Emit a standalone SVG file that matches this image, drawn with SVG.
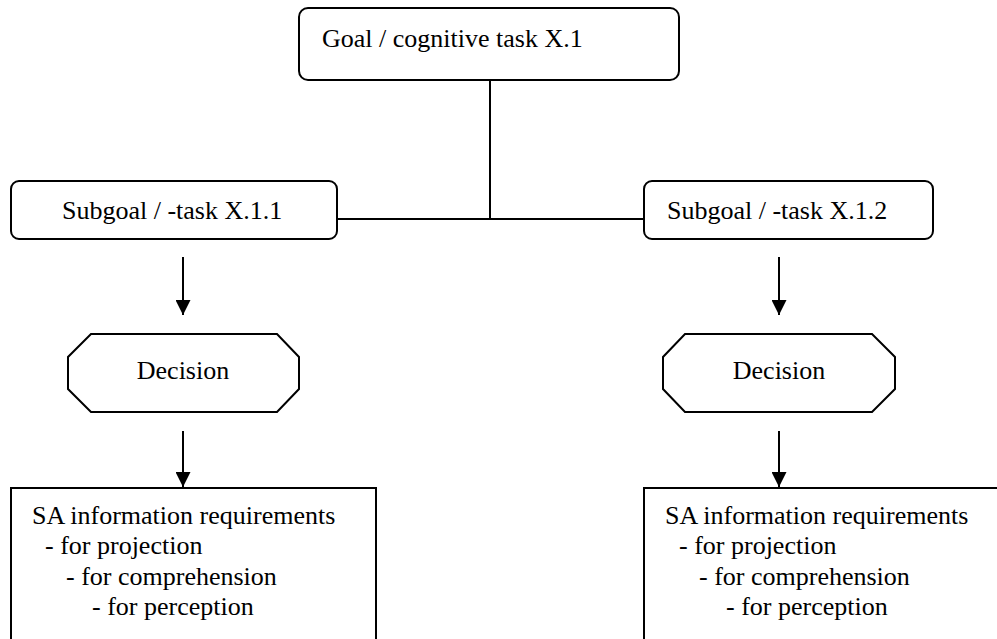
<svg xmlns="http://www.w3.org/2000/svg" width="997" height="639" viewBox="0 0 997 639">
<style>
  .box { fill: #fff; stroke: #000; stroke-width: 2; }
  .t { font-family: 'Liberation Serif', 'DejaVu Serif', serif; font-size: 26px; fill: #000; }
  .c { text-anchor: middle; }
  .ln { stroke: #000; stroke-width: 2; fill: none; }
</style>
<defs>
  <marker id="ah" markerWidth="16" markerHeight="15" refX="16" refY="8" orient="auto" markerUnits="userSpaceOnUse" viewBox="0 0 16 16">
    <path d="M0,0 L16,8 L0,16 Z" fill="#000"/>
  </marker>
</defs>
<rect width="997" height="639" fill="#fff"/>
<g id="connectors">
  <line class="ln" x1="490" y1="80" x2="490" y2="219"/>
  <line class="ln" x1="337" y1="219" x2="644" y2="219"/>
  <line class="ln" x1="183" y1="257" x2="183" y2="315" marker-end="url(#ah)"/>
  <line class="ln" x1="779" y1="257" x2="779" y2="315" marker-end="url(#ah)"/>
  <line class="ln" x1="183" y1="431" x2="183" y2="487" marker-end="url(#ah)"/>
  <line class="ln" x1="779" y1="431" x2="779" y2="487" marker-end="url(#ah)"/>
</g>
<g id="goal">
  <rect class="box" x="299" y="8" width="380" height="72" rx="9"/>
  <text class="t" font-family="Liberation Serif" x="322" y="47">Goal / cognitive task X.1</text>
</g>
<g id="subgoal1">
  <rect class="box" x="11" y="181" width="326" height="58" rx="8"/>
  <text class="t" x="62" y="219">Subgoal / -task X.1.1</text>
</g>
<g id="subgoal2">
  <rect class="box" x="644" y="181" width="289" height="58" rx="8"/>
  <text class="t" x="667" y="219">Subgoal / -task X.1.2</text>
</g>
<g id="decision1">
  <polygon class="box" points="91,334 277,334 299,357 299,389 277,412 91,412 68,389 68,357"/>
  <text class="t c" x="183" y="379">Decision</text>
</g>
<g id="decision2">
  <polygon class="box" points="685,334 872,334 895,357 895,389 872,412 685,412 663,389 663,357"/>
  <text class="t c" x="779" y="379">Decision</text>
</g>
<g id="sa1">
  <path class="box" d="M11,645 L11,488 L376,488 L376,645"/>
  <text class="t" x="32" y="524">SA information requirements</text>
  <text class="t" x="45" y="554">- for projection</text>
  <text class="t" x="66" y="585">- for comprehension</text>
  <text class="t" x="92" y="615">- for perception</text>
</g>
<g id="sa2">
  <path class="box" d="M644,645 L644,488 L1000,488"/>
  <text class="t" x="665" y="524">SA information requirements</text>
  <text class="t" x="679" y="554">- for projection</text>
  <text class="t" x="699" y="585">- for comprehension</text>
  <text class="t" x="726" y="615">- for perception</text>
</g>
</svg>
